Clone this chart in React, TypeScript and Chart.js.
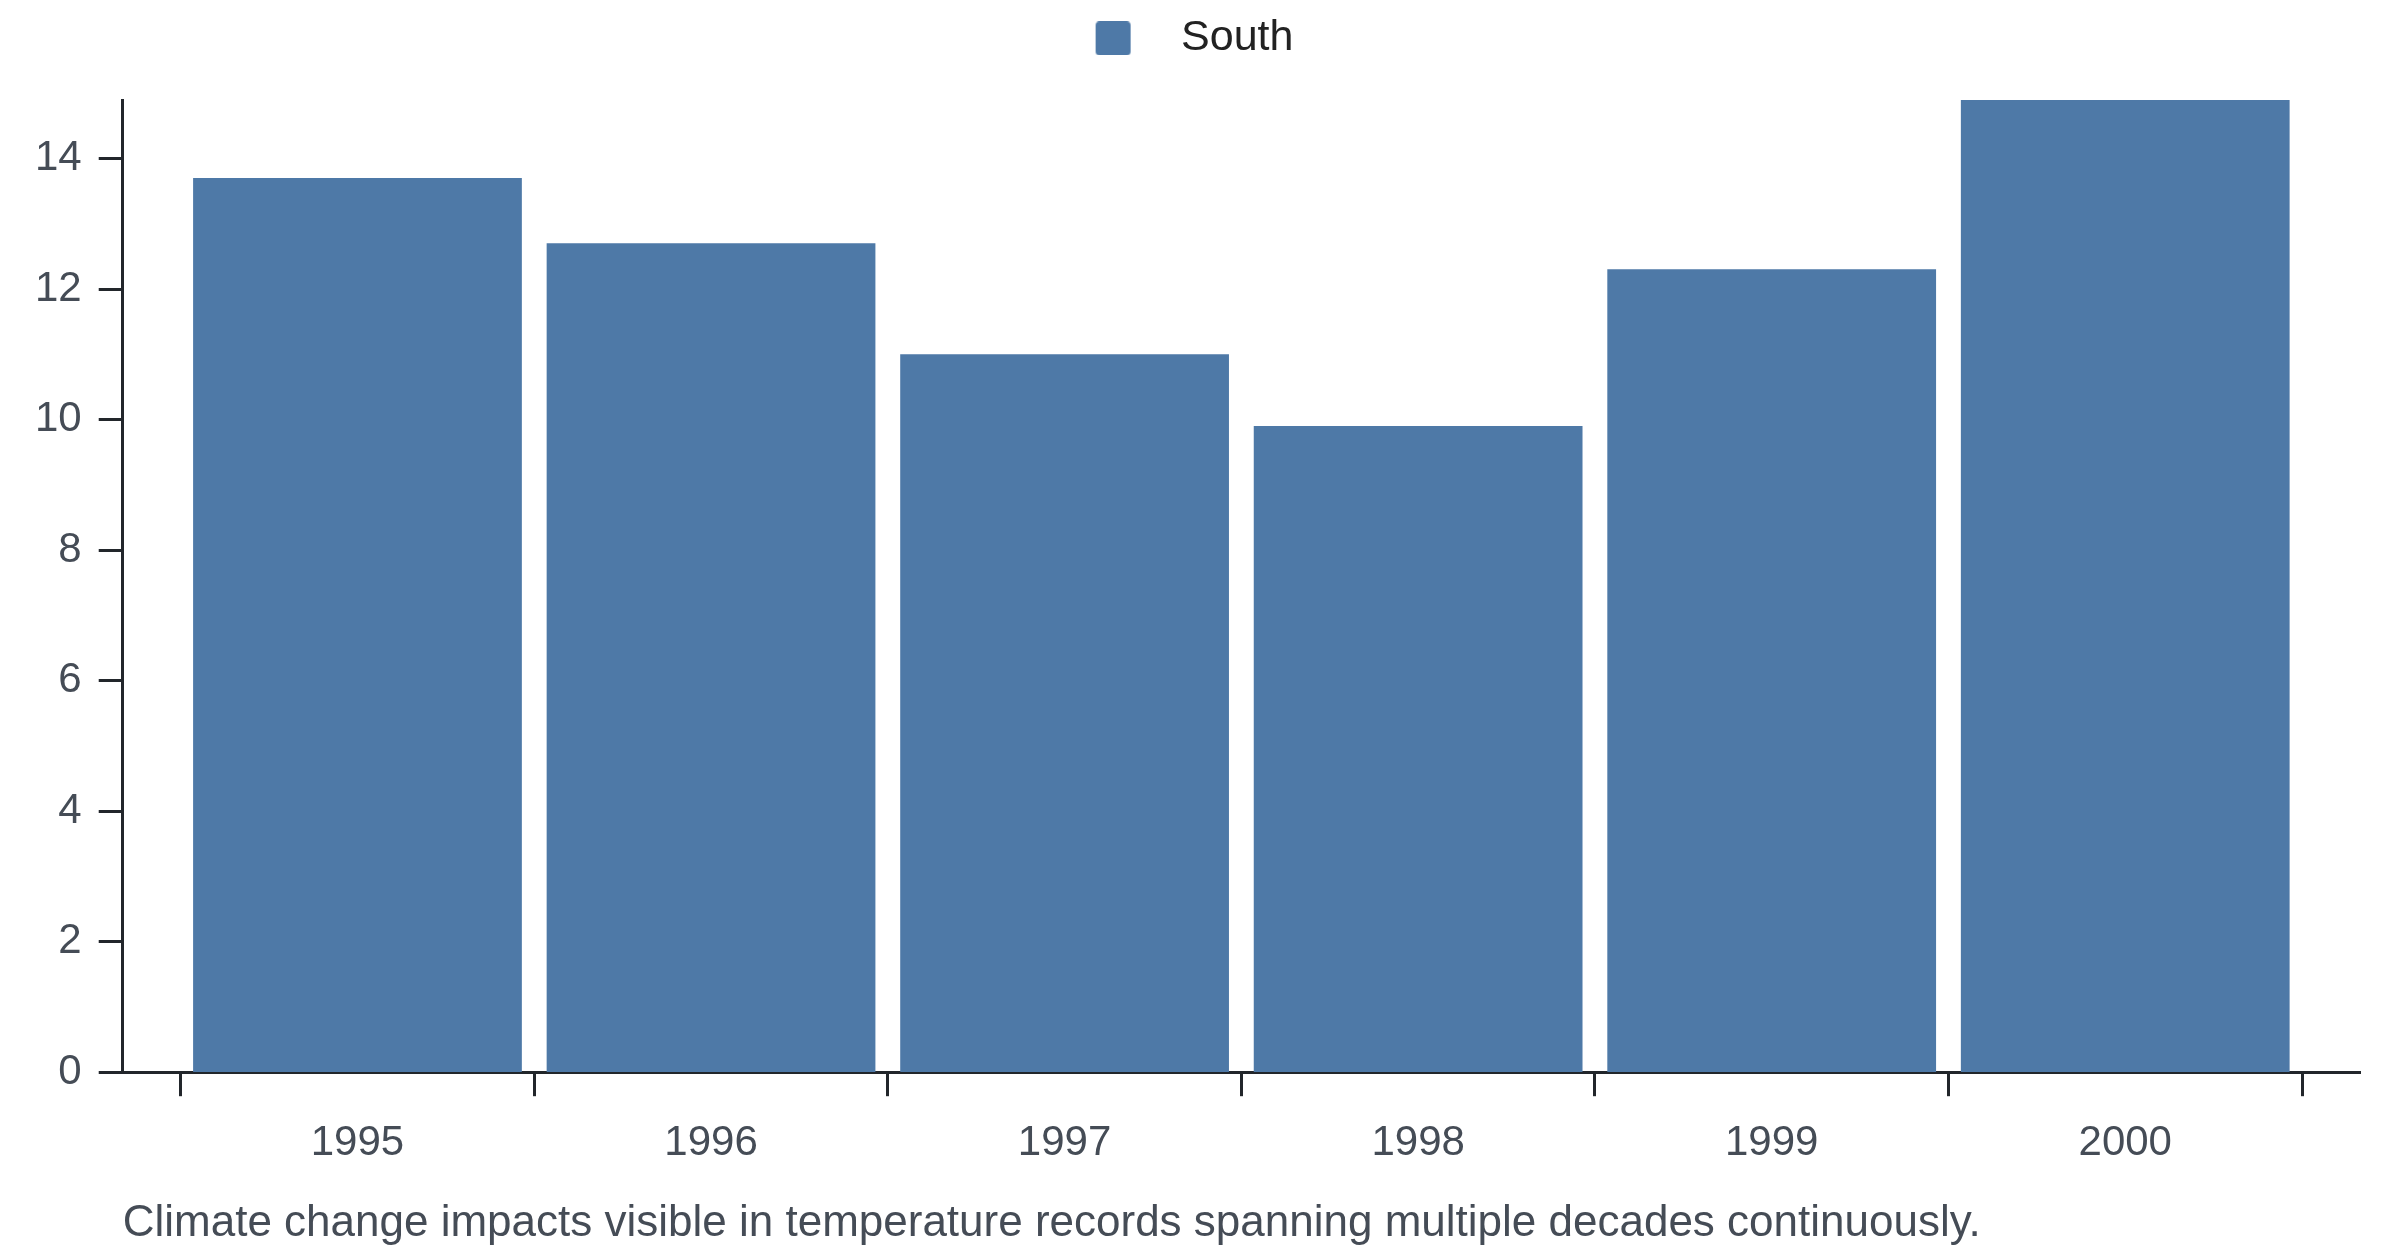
import React, { useEffect, useRef } from 'react';
import { Chart, registerables } from 'chart.js';

Chart.register(...registerables);

const years = ['1995', '1996', '1997', '1998', '1999', '2000'];
const south = [13.7, 12.7, 11.0, 9.9, 12.3, 14.9];
const seriesName = 'South';
const caption = 'Climate change impacts visible in temperature records spanning multiple decades continuously.';

const barColor = '#4e79a7';
const axisColor = '#22262b';
const textColor = '#454c56';
const edgePad = 0.164; // empty room between axis ends and first/last category

Chart.defaults.font.family = '"Liberation Sans", Arial, Helvetica, sans-serif';

// legend swatch drawn inside a wider transparent image, so the label sits further away
function makeSwatch() {
    const c = document.createElement('canvas');
    c.width = 75;
    c.height = 34;
    const ctx = c.getContext('2d');
    ctx.fillStyle = barColor;
    ctx.beginPath();
    ctx.roundRect(11, 0, 35, 34, 4);
    ctx.fill();
    return c;
}

// leave space between the legend and the plot
const legendGap = {
    id: 'legendGap',
    beforeLayout(chart) {
        const legend = chart.legend;
        if (!legend || legend._gapPatched) return;
        const fit = legend.fit;
        legend.fit = function () {
            fit.call(this);
            this.height += 30.1;
        };
        legend._gapPatched = true;
    }
};

export default function App() {
    const canvas = useRef<HTMLCanvasElement>(null);

    useEffect(() => {
        const chart = new Chart(canvas.current, {
            type: 'bar',
            data: {
                datasets: [{
                    label: seriesName,
                    data: south.map((v, i) => ({ x: i, y: v })),
                    backgroundColor: barColor,
                    barThickness: 'flex',
                    categoryPercentage: 1,
                    barPercentage: 0.928
                }]
            },
            options: {
                responsive: true,
                maintainAspectRatio: false,
                animation: false,
                layout: { padding: { left: 18, right: 40, top: 0, bottom: 0 } },
                scales: {
                    x: {
                        type: 'linear',
                        offset: false,
                        min: -0.5 - edgePad,
                        max: years.length - 0.5 + edgePad,
                        afterBuildTicks: (scale) => {
                            const ticks = [];
                            for (let i = 0; i <= years.length; i++) {
                                ticks.push({ value: i - 0.5 });
                                if (i < years.length) ticks.push({ value: i });
                            }
                            scale.ticks = ticks;
                        },
                        ticks: {
                            autoSkip: false,
                            maxRotation: 0,
                            padding: 22,
                            color: textColor,
                            font: { size: 42 },
                            callback: (v) => (Number.isInteger(v) ? years[v] : '')
                        },
                        grid: {
                            offset: false,
                            drawOnChartArea: false,
                            tickLength: 24,
                            tickWidth: 3,
                            tickColor: (ctx) => (Number.isInteger(ctx.tick?.value) ? 'rgba(0,0,0,0)' : axisColor)
                        },
                        border: { color: axisColor, width: 3 }
                    },
                    y: {
                        min: 0,
                        max: Math.max(...south),
                        ticks: {
                            stepSize: 2,
                            includeBounds: false,
                            padding: 17,
                            color: textColor,
                            font: { size: 42 }
                        },
                        grid: {
                            drawOnChartArea: false,
                            tickLength: 24,
                            tickWidth: 3,
                            tickColor: axisColor
                        },
                        border: { color: axisColor, width: 3 }
                    }
                },
                plugins: {
                    legend: {
                        position: 'top',
                        labels: {
                            usePointStyle: true,
                            pointStyle: makeSwatch(),
                            pointStyleWidth: 75,
                            padding: 16.9,
                            color: '#222',
                            font: { size: 43 }
                        }
                    },
                    title: {
                        display: true,
                        text: caption,
                        position: 'bottom',
                        align: 'start',
                        fullSize: false,
                        color: textColor,
                        font: { size: 44, weight: 'normal' },
                        padding: { top: 6.6, bottom: 6 }
                    },
                    tooltip: { enabled: false }
                }
            },
            plugins: [legendGap]
        });
        return () => {
            chart.destroy();
        };
    }, []);

    return (
        <div style={{ position: 'fixed', left: 0, top: 0, width: 2400, height: 1256, background: '#fff' }}>
            <canvas ref={canvas}></canvas>
        </div>
    );
}
